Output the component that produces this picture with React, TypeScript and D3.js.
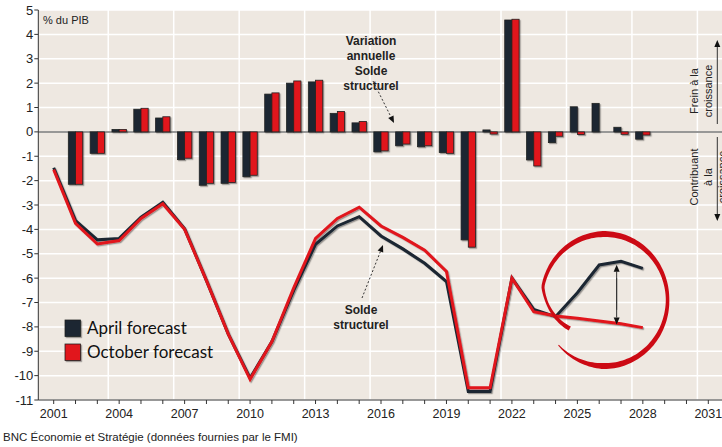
import * as d3 from "d3";

const years = d3.range(2001, 2029);
const axisYears = d3.range(2001, 2032);
const yTicks = d3.range(-11, 6);

// variation annuelle du solde structurel (barres)
const aprilChange = [null, -2.15, -0.88, 0.1, 0.93, 0.57, -1.14, -2.19, -2.11, -1.84, 1.55, 2.0, 2.05, 0.76, 0.37, -0.82, -0.57, -0.61, -0.85, -4.43, 0.08, 4.59, -1.15, -0.44, 1.03, 1.17, 0.19, -0.3];
const octoberChange = [null, -2.15, -0.88, 0.1, 0.97, 0.62, -1.08, -2.11, -2.08, -1.78, 1.6, 2.09, 2.12, 0.84, 0.43, -0.78, -0.5, -0.57, -0.88, -4.73, -0.09, 4.62, -1.4, -0.18, -0.11, 0, -0.1, -0.13];

// solde structurel (lignes)
const aprilBalance = [-1.47, -3.64, -4.43, -4.37, -3.5, -2.89, -3.98, -6.1, -8.3, -10.1, -8.6, -6.5, -4.61, -3.86, -3.48, -4.27, -4.8, -5.39, -6.14, -10.65, -10.65, -6.0, -7.28, -7.58, -6.6, -5.46, -5.31, -5.6];
const octoberBalance = [-1.55, -3.75, -4.6, -4.46, -3.55, -2.95, -4.0, -6.1, -8.3, -10.15, -8.6, -6.4, -4.37, -3.55, -3.09, -3.86, -4.33, -4.85, -5.73, -10.5, -10.5, -6.0, -7.38, -7.55, -7.65, -7.76, -7.87, -8.03];

const series = [
  { name: "April forecast", color: "#1b2733", change: aprilChange, balance: aprilBalance },
  { name: "October forecast", color: "#e1141c", change: octoberChange, balance: octoberBalance },
];

const W = 722;
const H = 447;
const plotLeft = 38.3;
const plotRight = 740;

const x = d3.scaleLinear().domain([2001, 2031]).range([53.7, 708.3]);
const y = d3.scaleLinear().domain([-11, 5]).range([400, 10]);
const bw = 7.2;

// hand-drawn circle around the forecast gap
function brushCircle() {
  const cx = x(2026.2) + 1;
  const cy = y(-6.9);
  const rx = 63;
  const ry = 66;
  const n = 160;
  const pts: [number, number][] = [];
  const widths: number[] = [];
  for (let i = 0; i <= n; i++) {
    const t = i / n;
    const a = ((137 - 355 * t) * Math.PI) / 180;
    const shrink = t > 0.86 ? 1 - ((t - 0.86) / 0.14) * 0.3 : 1;
    pts.push([cx + rx * shrink * Math.cos(a), cy + ry * shrink * Math.sin(a)]);
    let w;
    if (t < 0.13) w = 1 + (t / 0.13) * 5;
    else if (t < 0.39) w = 6 - ((t - 0.13) / 0.26) * 2.5;
    else if (t < 0.64) w = 3.5 + ((t - 0.39) / 0.25) * 2.5;
    else if (t < 0.9) w = 6 - ((t - 0.64) / 0.26) * 3.5;
    else w = 2.5 + ((t - 0.9) / 0.1) * 2;
    widths.push(w);
  }
  const left: [number, number][] = [];
  const right: [number, number][] = [];
  pts.forEach((p, i) => {
    const a = pts[Math.max(0, i - 1)];
    const b = pts[Math.min(n, i + 1)];
    const dx = b[0] - a[0];
    const dy = b[1] - a[1];
    const len = Math.hypot(dx, dy) || 1;
    const nx = -dy / len;
    const ny = dx / len;
    const h = widths[i] / 2;
    left.push([p[0] + nx * h, p[1] + ny * h]);
    right.push([p[0] - nx * h, p[1] - ny * h]);
  });
  const outline = left.concat(right.reverse());
  return d3.line().curve(d3.curveLinearClosed)(outline) || "";
}

function Arrow({ x1, y1, x2, y2, dashed }: { x1: number; y1: number; x2: number; y2: number; dashed?: boolean }) {
  const ang = Math.atan2(y2 - y1, x2 - x1);
  const L = 7;
  const hw = 3;
  const bx = x2 - L * Math.cos(ang);
  const by = y2 - L * Math.sin(ang);
  const p1 = [bx + hw * Math.sin(ang), by - hw * Math.cos(ang)];
  const p2 = [bx - hw * Math.sin(ang), by + hw * Math.cos(ang)];
  return (
    <g>
      <line x1={x1} y1={y1} x2={bx} y2={by} stroke="#333" strokeWidth={1} strokeDasharray={dashed ? "2,2" : undefined} />
      <path d={`M${x2},${y2}L${p1[0]},${p1[1]}L${p2[0]},${p2[1]}Z`} fill="#111" />
    </g>
  );
}

export default function App() {
  const line = d3
    .line<number>()
    .x((d, i) => x(years[i]))
    .y((d) => y(d));

  const font = "'Liberation Sans', Arial, sans-serif";

  return (
    <svg width={W} height={H} style={{ position: "absolute", left: 0, top: 0, background: "#fff" }}>
      <defs>
        <filter id="shadow" x="-20%" y="-20%" width="140%" height="140%">
          <feDropShadow dx="1.2" dy="1.2" stdDeviation="0.7" floodColor="#000" floodOpacity="0.35" />
        </filter>
        <clipPath id="plot">
          <rect x={plotLeft} y={y(5)} width={plotRight - plotLeft} height={y(-11) - y(5)} />
        </clipPath>
      </defs>

      {/* background & grid */}
      <rect x={plotLeft} y={y(5)} width={plotRight - plotLeft} height={y(-11) - y(5)} fill="#eee8e1" />
      {yTicks.map((t) => (
        <line key={`hg${t}`} x1={plotLeft} x2={plotRight} y1={y(t)} y2={y(t)} stroke="#fff" strokeWidth={1.5} />
      ))}
      {d3.range(2003.5, 2034, 3).map((t) => (
        <line key={`vg${t}`} x1={x(t)} x2={x(t)} y1={y(5)} y2={y(-11)} stroke="#fff" strokeWidth={1.5} />
      ))}
      <line x1={plotLeft} x2={plotRight} y1={y(0)} y2={y(0)} stroke="#777" strokeWidth={1.5} />

      {/* bars */}
      <g clipPath="url(#plot)" filter="url(#shadow)">
        {series.map((s, si) =>
          s.change.map((v, i) =>
            v == null || v === 0 ? null : (
              <rect
                key={`b${si}-${i}`}
                x={x(years[i]) - bw + si * bw}
                y={y(Math.max(0, v))}
                width={bw}
                height={Math.abs(y(v) - y(0))}
                fill={s.color}
                stroke="#222"
                strokeWidth={0.8}
              />
            )
          )
        )}
      </g>

      {/* lines */}
      <g filter="url(#shadow)">
        {series.map((s) => (
          <path key={s.name} d={line(s.balance) || ""} fill="none" stroke={s.color} strokeWidth={3} strokeLinejoin="miter" />
        ))}
      </g>

      {/* axes */}
      <line x1={plotLeft} x2={plotLeft} y1={y(5)} y2={y(-11)} stroke="#333" strokeWidth={1} />
      <line x1={plotLeft} x2={plotRight} y1={y(-11)} y2={y(-11)} stroke="#333" strokeWidth={1} />
      {yTicks.map((t) => (
        <g key={`yt${t}`}>
          <line x1={plotLeft - 4} x2={plotLeft} y1={y(t)} y2={y(t)} stroke="#333" />
          <text x={plotLeft - 5} y={y(t)} dy="0.35em" textAnchor="end" fontFamily={font} fontSize={13} fill="#222">
            {t}
          </text>
        </g>
      ))}
      {axisYears.map((t) => (
        <line key={`xt${t}`} x1={x(t)} x2={x(t)} y1={y(-11)} y2={y(-11) + 4} stroke="#333" />
      ))}
      {axisYears
        .filter((t) => (t - 2001) % 3 === 0)
        .map((t) => (
          <text key={`xl${t}`} x={x(t)} y={418} textAnchor="middle" fontFamily={font} fontSize={12.5} fill="#222">
            {t}
          </text>
        ))}

      {/* annotations */}
      <text x={43} y={24} fontFamily={font} fontSize={11} fill="#222">
        % du PIB
      </text>
      <g fontFamily={font} fontSize={12} fontWeight="bold" fill="#222" textAnchor="middle">
        {["Variation", "annuelle", "Solde", "structurel"].map((t, i) => (
          <text key={t} x={371} y={45 + i * 15}>
            {t}
          </text>
        ))}
        {["Solde", "structurel"].map((t, i) => (
          <text key={t} x={361} y={314 + i * 14.5}>
            {t}
          </text>
        ))}
      </g>
      <Arrow x1={373} y1={81} x2={394} y2={123} dashed />
      <Arrow x1={362} y1={298} x2={383} y2={245} dashed />

      <g fontFamily={font} fontSize={11} fill="#222" textAnchor="middle">
        <text transform={`translate(698,91) rotate(-90)`}>Frein à la</text>
        <text transform={`translate(712,91) rotate(-90)`}>croissance</text>
        <text transform={`translate(698,177) rotate(-90)`}>Contribuant</text>
        <text transform={`translate(712,177) rotate(-90)`}>à la</text>
        <text transform={`translate(726,177) rotate(-90)`}>croissance</text>
      </g>
      <Arrow x1={717.3} y1={124} x2={717.3} y2={40} />
      <Arrow x1={717.3} y1={137} x2={717.3} y2={221} />

      {/* forecast gap */}
      <Arrow x1={x(2026.8)} y1={y(-7.3)} x2={x(2026.8)} y2={y(-5.45)} />
      <Arrow x1={x(2026.8)} y1={y(-6.0)} x2={x(2026.8)} y2={y(-7.9)} />
      <path d={brushCircle()} fill="#cc0a14" />

      {/* legend */}
      {series.map((s, i) => (
        <g key={`lg${i}`} transform={`translate(65,${320 + i * 24})`}>
          <rect width={15.5} height={16.5} fill={s.color} stroke="#222" strokeWidth={0.8} filter="url(#shadow)" />
          <text x={22} y={13.5} fontFamily="Lato, 'Open Sans', sans-serif" fontSize={17} fill="#111">
            {s.name}
          </text>
        </g>
      ))}

      <text x={3} y={441} fontFamily={font} fontSize={11.5} fill="#222">
        BNC Économie et Stratégie (données fournies par le FMI)
      </text>
    </svg>
  );
}
